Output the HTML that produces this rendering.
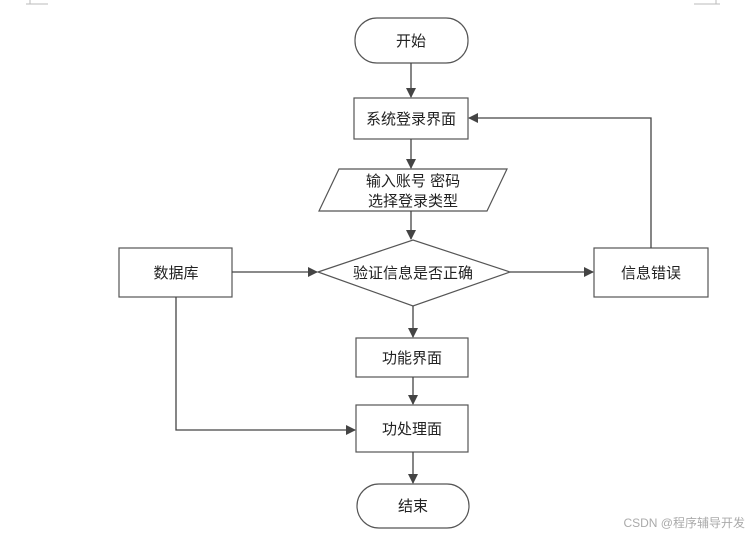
<!DOCTYPE html>
<html><head><meta charset="utf-8"><style>
html,body{margin:0;padding:0;background:#fff;}
svg{display:block}
text{font-family:"Liberation Sans","Noto Sans CJK SC",sans-serif;font-size:15px;fill:#222;}
</style></head><body>
<svg width="751" height="537" viewBox="0 0 751 537" xmlns="http://www.w3.org/2000/svg">
<defs>
<marker id="a" markerWidth="10" markerHeight="10" refX="9" refY="5" orient="auto" markerUnits="userSpaceOnUse">
<path d="M0,0 L10,5 L0,10 z" fill="#444"/></marker>
</defs>
<g stroke="#bbb" stroke-width="1">
<line x1="30" y1="0" x2="30" y2="4"/><line x1="26" y1="4" x2="48" y2="4"/>
<line x1="716" y1="0" x2="716" y2="4"/><line x1="694" y1="4" x2="720" y2="4"/>
</g>
<g fill="#fff" stroke="#555" stroke-width="1.2">
<rect x="355" y="18" width="113" height="45" rx="22"/>
<rect x="354" y="98" width="114" height="41"/>
<polygon points="339,169 507,169 487,211 319,211"/>
<polygon points="318,272 413,240 510,272 413,306"/>
<rect x="119" y="248" width="113" height="49"/>
<rect x="594" y="248" width="114" height="49"/>
<rect x="356" y="338" width="112" height="39"/>
<rect x="356" y="405" width="112" height="47"/>
<rect x="357" y="484" width="112" height="44" rx="22"/>
</g>
<g stroke="#444" stroke-width="1.3" fill="none">
<line x1="411" y1="63" x2="411" y2="97" marker-end="url(#a)"/>
<line x1="411" y1="139" x2="411" y2="168" marker-end="url(#a)"/>
<line x1="411" y1="211" x2="411" y2="239" marker-end="url(#a)"/>
<line x1="413" y1="306" x2="413" y2="337" marker-end="url(#a)"/>
<line x1="413" y1="377" x2="413" y2="404" marker-end="url(#a)"/>
<line x1="413" y1="452" x2="413" y2="483" marker-end="url(#a)"/>
<line x1="232" y1="272" x2="317" y2="272" marker-end="url(#a)"/>
<line x1="510" y1="272" x2="593" y2="272" marker-end="url(#a)"/>
<polyline points="651,248 651,118 469,118" marker-end="url(#a)"/>
<polyline points="176,297 176,430 355,430" marker-end="url(#a)"/>
</g>
<g text-anchor="middle">
<text x="411" y="46">开始</text>
<text x="411" y="124">系统登录界面</text>
<text x="413" y="186">输入账号 密码</text>
<text x="413" y="206">选择登录类型</text>
<text x="413" y="278">验证信息是否正确</text>
<text x="176" y="278">数据库</text>
<text x="651" y="278">信息错误</text>
<text x="412" y="363">功能界面</text>
<text x="412" y="434">功处理面</text>
<text x="413" y="511">结束</text>
</g>
<text x="745" y="527" text-anchor="end" style="font-size:12px;fill:#aaa">CSDN @程序辅导开发</text>
</svg>
</body></html>
